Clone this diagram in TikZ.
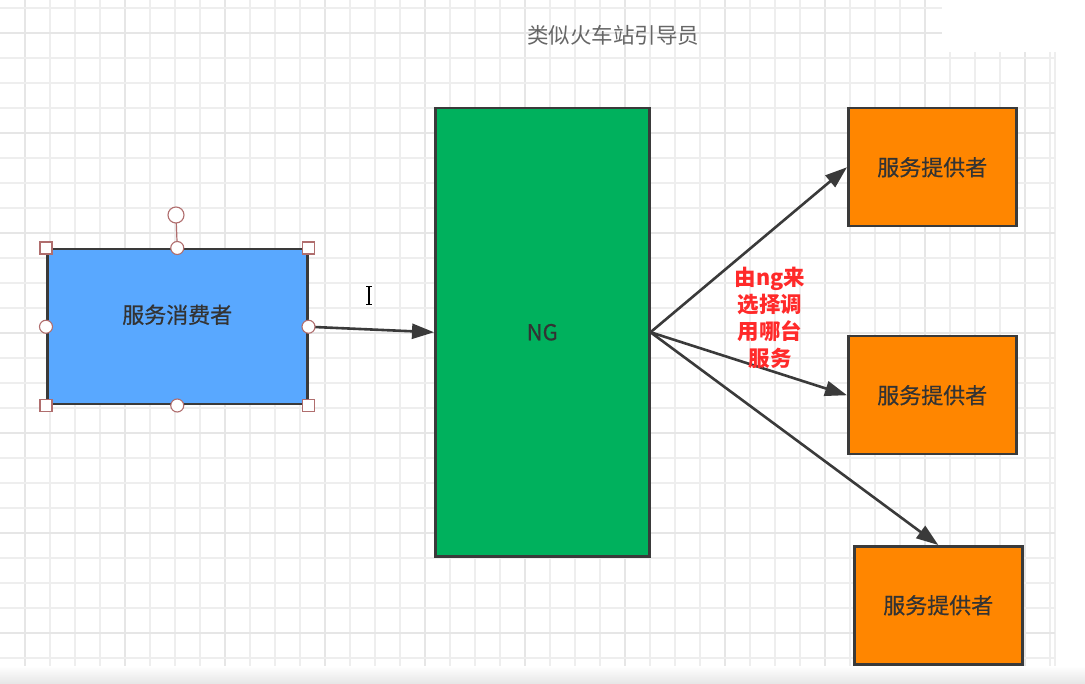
\documentclass[tikz,border=0pt]{standalone}
\usepackage{fontspec}
\newfontfamily\cjk{Noto Sans CJK SC}
\newfontfamily\cjkm[FakeBold=0.6]{Noto Sans CJK SC}
\usetikzlibrary{arrows.meta}
\definecolor{gridc}{HTML}{EEEEEE}
\definecolor{gridd}{HTML}{E6E6E6}
\definecolor{edge}{HTML}{3A3A3A}
\definecolor{consumerfill}{HTML}{59A8FF}
\definecolor{ngfill}{HTML}{00B15D}
\definecolor{provfill}{HTML}{FF8600}
\definecolor{handlec}{HTML}{B06E6E}
\definecolor{txtc}{HTML}{333333}
\definecolor{titlec}{HTML}{666666}
\definecolor{redc}{HTML}{FF2A2A}
\tikzset{
  boxstyle/.style={draw=edge, line width=2.5pt, inner sep=0pt, font=\cjkm\fontsize{22}{26}\selectfont, text=txtc},
  boxtext/.style={inner sep=0pt, font=\cjkm\fontsize{22}{26}\selectfont, text=txtc},
  arr/.style={draw=edge, line width=2.6pt, -{Triangle[length=22pt,width=15pt]}},
  sqhandle/.style={draw=handlec, fill=white, line width=1.1pt, minimum size=12pt, inner sep=0pt},
  cirhandle/.style={draw=handlec, fill=white, line width=1.1pt, circle, minimum size=13pt, inner sep=0pt},
}
\begin{document}
\begin{tikzpicture}[x=1pt,y=-1pt]
\useasboundingbox (0,0) rectangle (1085,684);
\fill[white] (0,0) rectangle (1085,684);
% grid
\foreach \i in {1,...,42} {
  \draw[gridc, line width=1.6pt] ({25*\i},0) -- ({25*\i},668);
}
\foreach \i in {0,...,10} {
  \draw[gridd, line width=1.8pt] ({25+100*\i},0) -- ({25+100*\i},668);
}
\draw[gridc, line width=1.6pt] (1055,0) -- (1055,668);
\foreach \j in {0,...,26} {
  \draw[gridc, line width=1.6pt] (0,{8+25*\j}) -- (1055,{8+25*\j});
}
\foreach \j in {0,...,6} {
  \draw[gridd, line width=1.8pt] (0,{33+100*\j}) -- (1055,{33+100*\j});
}
\fill[white] (942,0) rectangle (1056,52);
\shade[top color=white, bottom color=white!90!black] (0,666) rectangle (1085,684);
% title
\node[font=\cjk\fontsize{21.5}{24}\selectfont, text=titlec] (title) at (613,35) {类似火车站引导员};
% nodes
\node[boxstyle, fill=consumerfill, minimum width=260pt, minimum height=155pt, anchor=north west] (c) at (46,248) {};
\node[boxtext] (ctxt) at ([yshift=12pt]c.center) {服务消费者};
\node[boxstyle, fill=ngfill, minimum width=214pt, minimum height=448pt, anchor=north west] (ng) at (434,107) {NG};
\node[boxstyle, fill=provfill, minimum width=168pt, minimum height=118pt, anchor=north west] (p1) at (847,107) {服务提供者};
\node[boxstyle, fill=provfill, minimum width=168pt, minimum height=118pt, anchor=north west] (p2) at (847,335) {服务提供者};
\node[boxstyle, fill=provfill, minimum width=168pt, minimum height=118pt, anchor=north west] (p3) at (853,545) {服务提供者};
% arrows
\draw[arr] (c.east) -- (ng.west);
\draw[arr] (ng.east) -- (p1.west);
\draw[arr] (ng.east) -- (p2.west);
\draw[arr] (ng.east) -- (p3.north);
% red label
\node[font=\cjk\bfseries\fontsize{21.5}{27}\selectfont, text=redc, align=center] (lbl) at (770,318) {由ng来\\选择调\\用哪台\\服务};
% selection handles
\coordinate (rot) at (176,215);
\draw[handlec, line width=1.2pt] (c.north) -- (rot);
\node[cirhandle, minimum size=16pt] (rh) at (rot) {};
\node[sqhandle] (h1) at (c.north west) {};
\node[sqhandle] (h2) at (c.north east) {};
\node[sqhandle] (h3) at (c.south west) {};
\node[sqhandle] (h4) at (c.south east) {};
\node[cirhandle] (h5) at (c.north) {};
\node[cirhandle] (h6) at (c.south) {};
\node[cirhandle] (h7) at (c.west) {};
\node[cirhandle] (h8) at (c.east) {};
% text cursor
\coordinate (cur) at (369,296);
\draw[black, line width=1.2pt] ([yshift=-9pt]cur) -- ([yshift=9pt]cur);
\draw[black, line width=1pt] ([xshift=-3pt,yshift=-9pt]cur) -- ([xshift=3pt,yshift=-9pt]cur);
\draw[black, line width=1pt] ([xshift=-3pt,yshift=9pt]cur) -- ([xshift=3pt,yshift=9pt]cur);
\end{tikzpicture}
\end{document}
